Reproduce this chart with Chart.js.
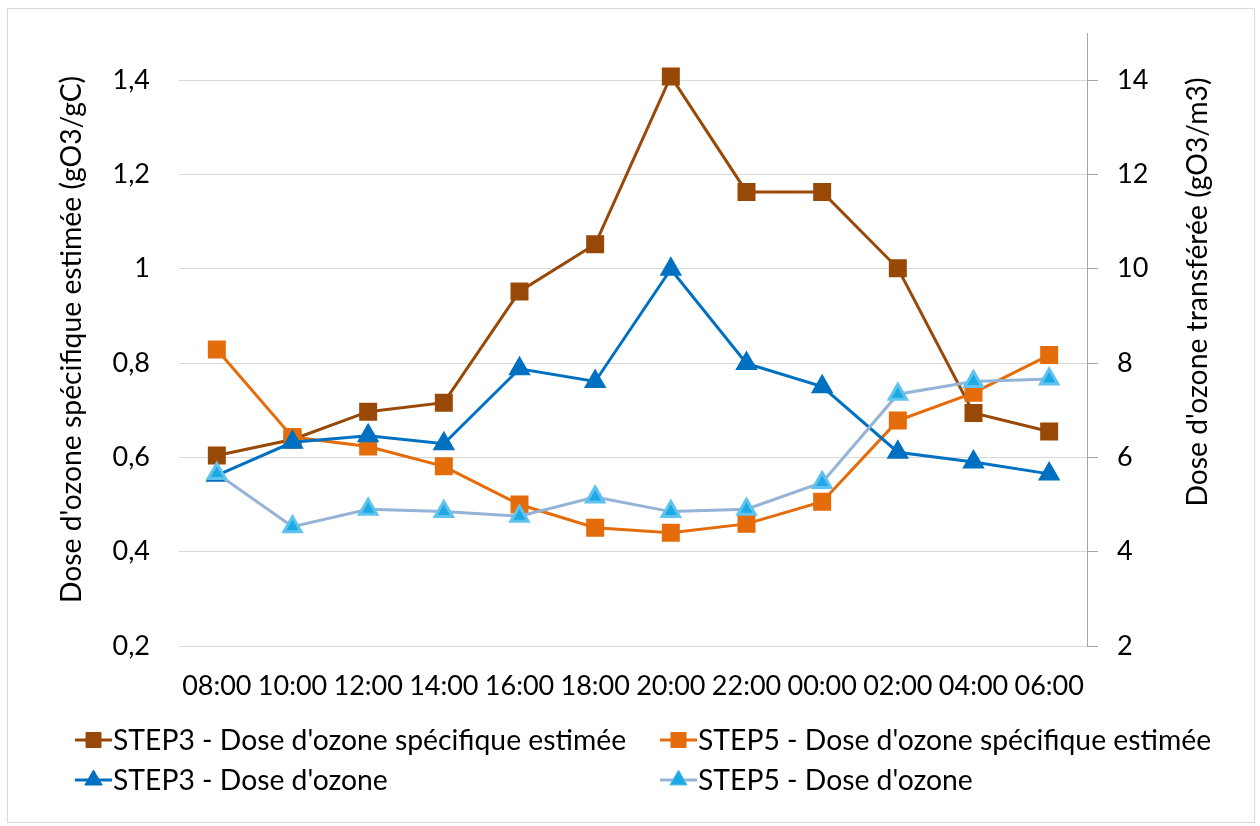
<!DOCTYPE html>
<html><head><meta charset="utf-8">
<script src="https://cdn.jsdelivr.net/npm/chart.js@4.4.0/dist/chart.umd.min.js"></script>
<style>html,body{margin:0;padding:0;background:#fff}#wrap{width:1260px;height:826px;position:relative}canvas{display:block}</style>
</head><body><div id="wrap"><canvas id="c" width="1260" height="826"></canvas></div>
<script>
const categories = ['08:00','10:00','12:00','14:00','16:00','18:00','20:00','22:00','00:00','02:00','04:00','06:00'];
const step3Specific = [0.604, 0.638, 0.697, 0.716, 0.952, 1.052, 1.408, 1.163, 1.163, 1.001, 0.694, 0.655];
const step5Specific = [0.829, 0.643, 0.623, 0.581, 0.500, 0.451, 0.440, 0.459, 0.506, 0.678, 0.737, 0.817];
const step3Dose = [5.62, 6.32, 6.46, 6.29, 7.88, 7.61, 9.99, 7.99, 7.50, 6.11, 5.90, 5.65];
const step5Dose = [5.66, 4.53, 4.90, 4.85, 4.75, 5.16, 4.85, 4.90, 5.47, 7.34, 7.61, 7.66];
const seriesNames = ["STEP3 - Dose d'ozone spécifique estimée", "STEP5 - Dose d'ozone spécifique estimée", "STEP3 - Dose d'ozone", "STEP5 - Dose d'ozone"];
const leftTickValues = [0.2, 0.4, 0.6, 0.8, 1.0, 1.2, 1.4];
const rightTickValues = [2, 4, 6, 8, 10, 12, 14];
const leftTitle = "Dose d'ozone spécifique estimée (gO3/gC)";
const rightTitle = "Dose d'ozone transférée (gO3/m3)";

const FONT = 'Lato';
const FS = 27;
const FS_TEXT = 28.3;

const extras = {
  id: 'extras',
  beforeDraw(chart) {
    const ctx = chart.ctx;
    ctx.save();
    ctx.fillStyle = '#fff';
    ctx.fillRect(0, 0, chart.width, chart.height);
    ctx.strokeStyle = '#d9d9d9';
    ctx.lineWidth = 1;
    ctx.strokeRect(7.5, 8.5, 1247, 814);
    ctx.restore();
  },
  afterDraw(chart) {
    const ctx = chart.ctx;
    ctx.save();
    ctx.fillStyle = '#000';
    ctx.font = FS_TEXT + 'px ' + FONT;
    ctx.textAlign = 'center';
    ctx.textBaseline = 'middle';
    ctx.translate(1198, 292);
    ctx.rotate(-Math.PI / 2);
    ctx.fillText(rightTitle, 0, 0);
    ctx.restore();

    const pos = [[75, 740], [660, 740], [75, 780], [660, 780]];
    chart.data.datasets.forEach((ds, i) => {
      const [x, y] = pos[i];
      ctx.save();
      ctx.strokeStyle = ds.borderColor;
      ctx.lineWidth = 3;
      ctx.beginPath();
      ctx.moveTo(x, y);
      ctx.lineTo(x + 37, y);
      ctx.stroke();
      ctx.fillStyle = ds.pointBackgroundColor;
      ctx.strokeStyle = ds.pointBorderColor;
      ctx.lineWidth = 1;
      Chart.helpers.drawPoint(ctx, {pointStyle: ds.pointStyle, radius: ds.pointRadius, rotation: 0, borderWidth: 1}, x + 18.5, y);
      ctx.fillStyle = '#000';
      ctx.font = FS_TEXT + 'px ' + FONT;
      ctx.textAlign = 'left';
      ctx.textBaseline = 'middle';
      ctx.fillText(ds.label, x + 38, y + 1);
      ctx.restore();
    });
  }
};

const fmtLeft = v => String(Number(v.toFixed(1))).replace('.', ',');

new Chart(document.getElementById('c'), {
  type: 'line',
  data: {
    labels: categories,
    datasets: [
      {label: seriesNames[0], data: step3Specific, yAxisID: 'y', borderColor: '#984807', backgroundColor: '#984807',
       pointBackgroundColor: '#984807', pointBorderColor: '#984807', pointStyle: 'rect', pointRadius: 10.6, borderWidth: 3, order: 4},
      {label: seriesNames[1], data: step5Specific, yAxisID: 'y', borderColor: '#E46C0A', backgroundColor: '#E46C0A',
       pointBackgroundColor: '#E46C0A', pointBorderColor: '#E46C0A', pointStyle: 'rect', pointRadius: 10.6, borderWidth: 3, order: 3},
      {label: seriesNames[2], data: step3Dose, yAxisID: 'y2', borderColor: '#0070C0', backgroundColor: '#0070C0',
       pointBackgroundColor: '#0070C0', pointBorderColor: '#0070C0', pointStyle: 'triangle', pointRadius: 10, borderWidth: 3, order: 2},
      {label: seriesNames[3], data: step5Dose, yAxisID: 'y2', borderColor: '#95B3D7', backgroundColor: '#1CA9E6',
       pointBackgroundColor: '#1CA9E6', pointBorderColor: '#5fc3ee', pointStyle: 'triangle', pointRadius: 10, borderWidth: 3, order: 1}
    ]
  },
  options: {
    responsive: false,
    animation: false,
    devicePixelRatio: 1,
    layout: {padding: {top: 33, left: 0, right: 0, bottom: 0}},
    plugins: {legend: {display: false}, tooltip: {enabled: false}},
    elements: {line: {tension: 0}, point: {hoverRadius: 10}},
    scales: {
      x: {
        type: 'category',
        offset: true,
        grid: {display: false, drawTicks: false},
        border: {display: false},
        ticks: {autoSkip: false, maxRotation: 0, minRotation: 0, padding: 24, color: '#000', font: {family: FONT, size: FS}},
        afterFit: s => { s.height = 180; s.paddingLeft = 0; s.paddingRight = 0; }
      },
      y: {
        position: 'left',
        min: 0.2, max: 1.5,
        afterBuildTicks: s => { s.ticks = leftTickValues.map(v => ({value: v})); },
        grid: {color: '#d9d9d9', lineWidth: 1, drawTicks: false},
        border: {display: false},
        ticks: {padding: 29, color: '#000', font: {family: FONT, size: FS}, callback: v => fmtLeft(v)},
        title: {display: true, text: leftTitle, color: '#000', font: {family: FONT, size: FS_TEXT}, padding: {top: 55, bottom: 0}},
        afterFit: s => { s.width = 179; s.paddingTop = 0; s.paddingBottom = 0; }
      },
      y2: {
        position: 'right',
        min: 2, max: 15,
        afterBuildTicks: s => { s.ticks = rightTickValues.map(v => ({value: v})); },
        grid: {drawOnChartArea: false, drawTicks: true, tickLength: 11, tickColor: '#a6a6a6', color: '#a6a6a6'},
        border: {display: true, color: '#a6a6a6', width: 1},
        ticks: {padding: 19, color: '#000', font: {family: FONT, size: FS}, callback: v => String(v)},
        afterFit: s => { s.width = 173; s.paddingTop = 0; s.paddingBottom = 0; }
      }
    }
  },
  plugins: [extras]
});
</script>
</body></html>
